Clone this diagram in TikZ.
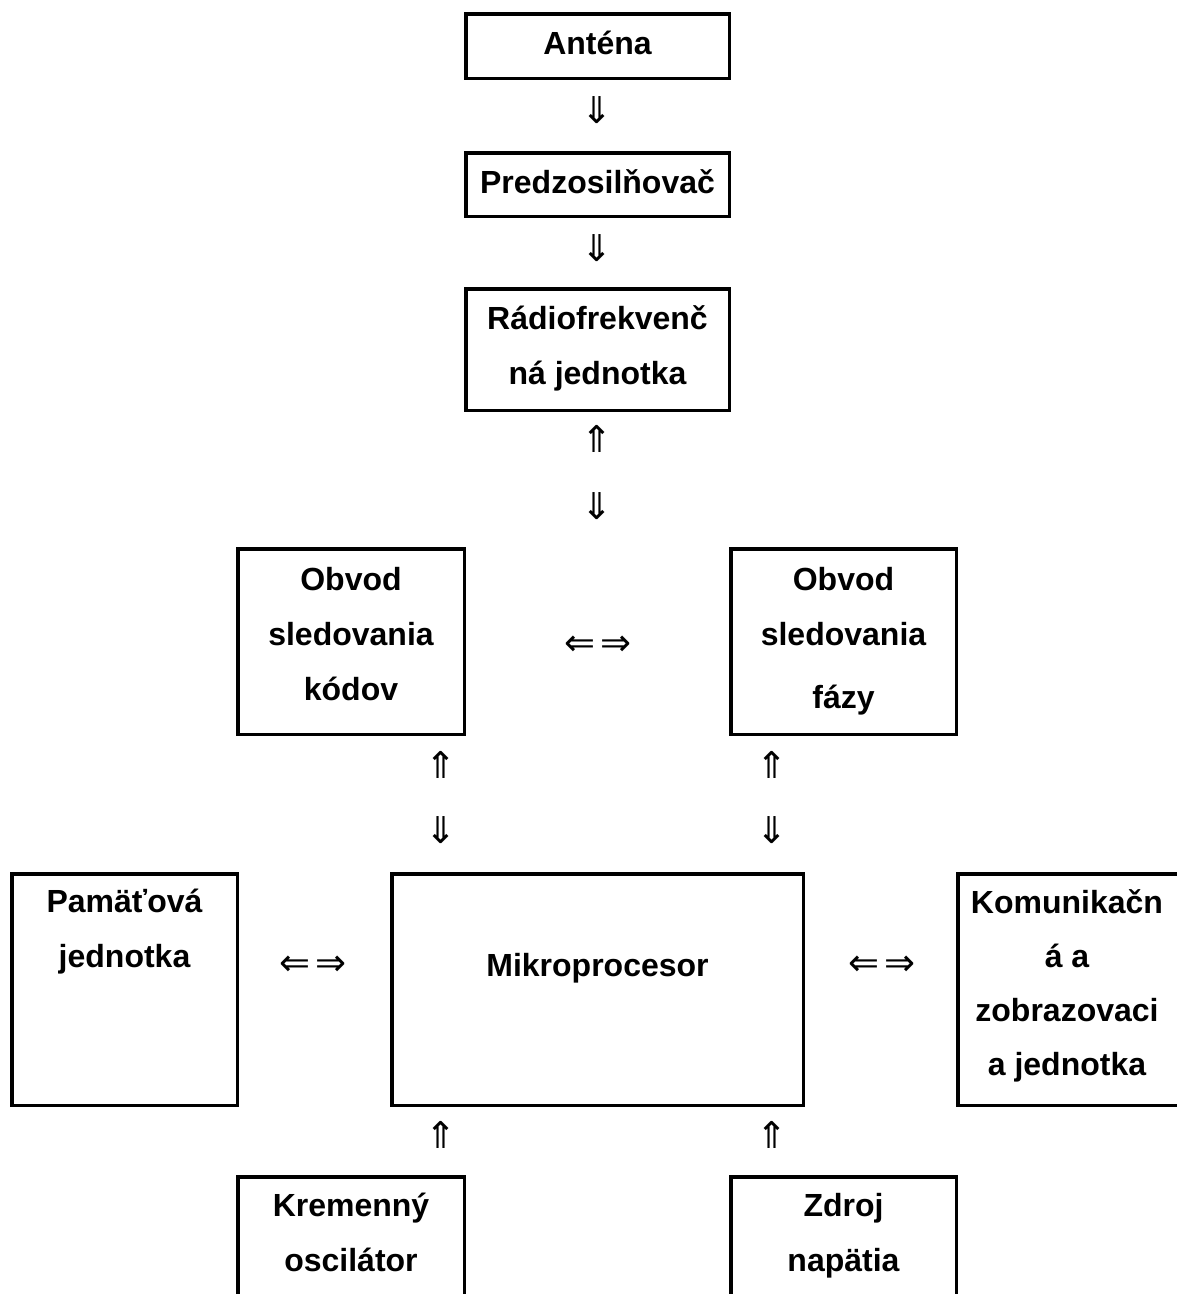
\documentclass[tikz,border=0pt]{standalone}
\usepackage{fontspec}
\setmainfont{Liberation Sans}
\newfontfamily\arrowfont{DejaVu Sans}
\begin{document}
\begin{tikzpicture}[x=1pt,y=-1pt,
  blk/.style={draw=black, line width=3.5pt, rectangle, inner sep=0pt},
  lbl/.style={font=\bfseries\fontsize{32}{55}\selectfont, align=center, anchor=base, inner sep=0pt},
  arr/.style={font=\arrowfont\fontsize{37}{37}\selectfont, inner sep=0pt}]
\useasboundingbox (0,0) rectangle (1177,1294);
\clip (0,0) rectangle (1177,1294);
% boxes
\node[blk, minimum width=263.5pt, minimum height=64.5pt] (antena) at (597.5,46) {};
\node[blk, minimum width=263.5pt, minimum height=63.5pt] (predzo) at (597.5,184.5) {};
\node[blk, minimum width=263.5pt, minimum height=121.5pt] (radio) at (597.5,349.5) {};
\node[blk, minimum width=226.5pt, minimum height=185.5pt] (obvodk) at (351,641.5) {};
\node[blk, minimum width=225.5pt, minimum height=185.5pt] (obvodf) at (843.5,641.5) {};
\node[blk, minimum width=225.5pt, minimum height=231.5pt] (pamat) at (124.5,989.5) {};
\node[blk, minimum width=411.5pt, minimum height=231.5pt] (mikro) at (597.5,989.5) {};
\node[blk, minimum width=226.5pt, minimum height=231.5pt] (komun) at (1071,989.5) {};
\node[blk, minimum width=226.5pt, minimum height=161.5pt] (krem) at (351,1257.5) {};
\node[blk, minimum width=225.5pt, minimum height=161.5pt] (zdroj) at (843.5,1257.5) {};
% labels (anchor = baseline of the last line)
\node[lbl] (antena-t) at (597.5,54) {Anténa};
\node[lbl] (predzo-t) at (597.5,193) {Predzosilňovač};
\node[lbl] (radio-t) at (597.5,384) {Rádiofrekvenč\\ná jednotka};
\node[lbl] (obvodk-t) at (351,700) {Obvod\\sledovania\\kódov};
\node[lbl] (obvodf-t) at (843.5,708) {Obvod\\sledovania\\[8pt]fázy};
\node[lbl] (pamat-t) at (124.5,967) {Pamäťová\\jednotka};
\node[lbl] (mikro-t) at (597.5,976) {Mikroprocesor};
\node[lbl] (komun-t) at (1067,1075) {Komunikačn\\[-1pt]á a\\[-1pt]zobrazovaci\\[-1pt]a jednotka};
\node[lbl] (krem-t) at (351,1271) {Kremenný\\oscilátor};
\node[lbl] (zdroj-t) at (843.5,1271) {Zdroj\\napätia};
% arrow glyphs
\node[arr] (a1) at (597,110) {⇓};
\node[arr] (a2) at (597,248) {⇓};
\node[arr] (a3) at (597,439) {⇑};
\node[arr] (a4) at (597,506) {⇓};
\node[arr] (a5) at (598,646) {⇐\hspace{5pt}⇒};
\node[arr] (a6) at (441,765) {⇑};
\node[arr] (a7) at (441,830) {⇓};
\node[arr] (a8) at (772,765) {⇑};
\node[arr] (a9) at (772,830) {⇓};
\node[arr] (a10) at (313,966) {⇐\hspace{5pt}⇒};
\node[arr] (a11) at (882,966) {⇐\hspace{5pt}⇒};
\node[arr] (a12) at (441,1135) {⇑};
\node[arr] (a13) at (772,1135) {⇑};
\end{tikzpicture}
\end{document}
